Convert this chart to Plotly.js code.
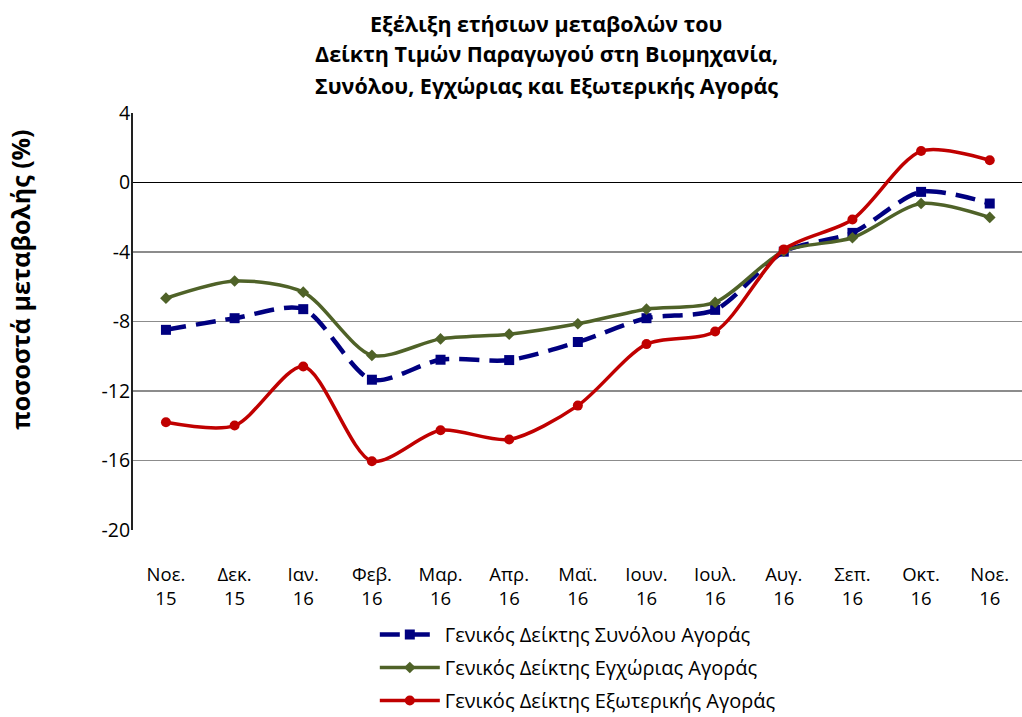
<!DOCTYPE html>
<html>
<head>
<meta charset="utf-8">
<script src="https://cdn.plot.ly/plotly-3.0.1.min.js"></script>
<style>html,body{margin:0;padding:0;background:#fff;}#chart{width:1022px;height:717px;}</style>
</head>
<body>
<div id="chart"></div>
<script>
var months = ["Νοε.<br>15","Δεκ.<br>15","Ιαν.<br>16","Φεβ.<br>16","Μαρ.<br>16","Απρ.<br>16","Μαϊ.<br>16","Ιουν.<br>16","Ιουλ.<br>16","Αυγ.<br>16","Σεπ.<br>16","Οκτ.<br>16","Νοε.<br>16"];
var totalMarket = [-8.48,-7.81,-7.29,-11.35,-10.2,-10.22,-9.18,-7.81,-7.33,-3.98,-2.9,-0.54,-1.21];
var domesticMarket = [-6.66,-5.67,-6.31,-9.95,-9.0,-8.73,-8.13,-7.29,-6.9,-3.95,-3.18,-1.21,-2.01];
var foreignMarket = [-13.8,-13.99,-10.59,-16.04,-14.26,-14.79,-12.84,-9.3,-8.58,-3.85,-2.13,1.81,1.28];
var seriesNames = ["Γενικός Δείκτης Συνόλου Αγοράς","Γενικός Δείκτης Εγχώριας Αγοράς","Γενικός Δείκτης Εξωτερικής Αγοράς"];
var titleLines = ["Εξέλιξη ετήσιων μεταβολών του","Δείκτη Τιμών Παραγωγού στη Βιομηχανία,","Συνόλου, Εγχώριας και Εξωτερικής Αγοράς"];
var yTitle = "ποσοστά μεταβολής (%)";
var yTicks = [4,0,-4,-8,-12,-16,-20];

var xIdx = months.map(function(_, i){ return i; });
var font = "Open Sans, Noto Sans, DejaVu Sans, sans-serif";

var traces = [
  {x: xIdx, y: totalMarket, name: seriesNames[0], legendgroup: "a", type: "scatter", mode: "lines+markers",
   line: {color: "#000080", width: 4.5, dash: "20px,10px", shape: "spline", smoothing: 0.8},
   marker: {symbol: "square", size: 10, color: "#000080"}},
  {x: xIdx, y: domesticMarket, name: seriesNames[1], legendgroup: "b", type: "scatter", mode: "lines+markers",
   line: {color: "#4F6228", width: 3.5, shape: "spline", smoothing: 0.8},
   marker: {symbol: "diamond", size: 9, color: "#4F6228"}},
  {x: xIdx, y: foreignMarket, name: seriesNames[2], legendgroup: "c", type: "scatter", mode: "lines+markers",
   line: {color: "#C00000", width: 3.5, shape: "spline", smoothing: 0.8},
   marker: {symbol: "circle", size: 10, color: "#C00000"}}
];

var titleY = [1.2153, 1.1435, 1.067];
var annotations = titleLines.map(function(t, i){
  return {text: "<b>" + t + "</b>", xref: "paper", yref: "paper", x: 0.4646, y: titleY[i],
          xanchor: "center", yanchor: "middle", showarrow: false,
          font: {family: font, size: 21.5, color: "#000"}};
});
annotations.push({text: "<b>" + yTitle + "</b>", textangle: -90, xref: "paper", yref: "paper",
     x: -0.1271, y: 0.6, xanchor: "center", yanchor: "middle", showarrow: false,
     font: {family: font, size: 25, color: "#000"}});

var layout = {
  width: 1022, height: 717,
  margin: {l: 133, r: 0, t: 113, b: 187, autoexpand: false},
  paper_bgcolor: "#fff", plot_bgcolor: "#fff",
  font: {family: font, color: "#000", size: 18},
  showlegend: true,
  xaxis: {type: "linear", range: [-0.48, 12.47], tickmode: "array", tickvals: xIdx, ticktext: months,
          showgrid: false, zeroline: false, showline: false, ticks: "",
          ticklabelstandoff: 31, tickfont: {family: font, size: 18.5, color: "#000"}, fixedrange: true},
  yaxis: {range: [-20, 4], tickmode: "array", tickvals: yTicks, ticktext: yTicks.map(String),
          showgrid: true, gridcolor: "#8c8c8c", gridwidth: 1.5,
          zeroline: true, zerolinecolor: "#000", zerolinewidth: 1.5,
          showline: true, linecolor: "#222", linewidth: 2, ticks: "", ticklabelstandoff: -3,
          tickfont: {family: font, size: 19.5, color: "#000"}, fixedrange: true},
  legend: {orientation: "v", traceorder: "grouped", x: 0.272, xanchor: "left",
           yref: "container", y: 1 - 615/717, yanchor: "top",
           font: {family: font, size: 20, color: "#000"}, bgcolor: "rgba(0,0,0,0)", itemwidth: 60, tracegroupgap: 4},
  annotations: annotations
};

Plotly.newPlot("chart", traces, layout, {displayModeBar: false, staticPlot: true});
</script>
</body>
</html>
